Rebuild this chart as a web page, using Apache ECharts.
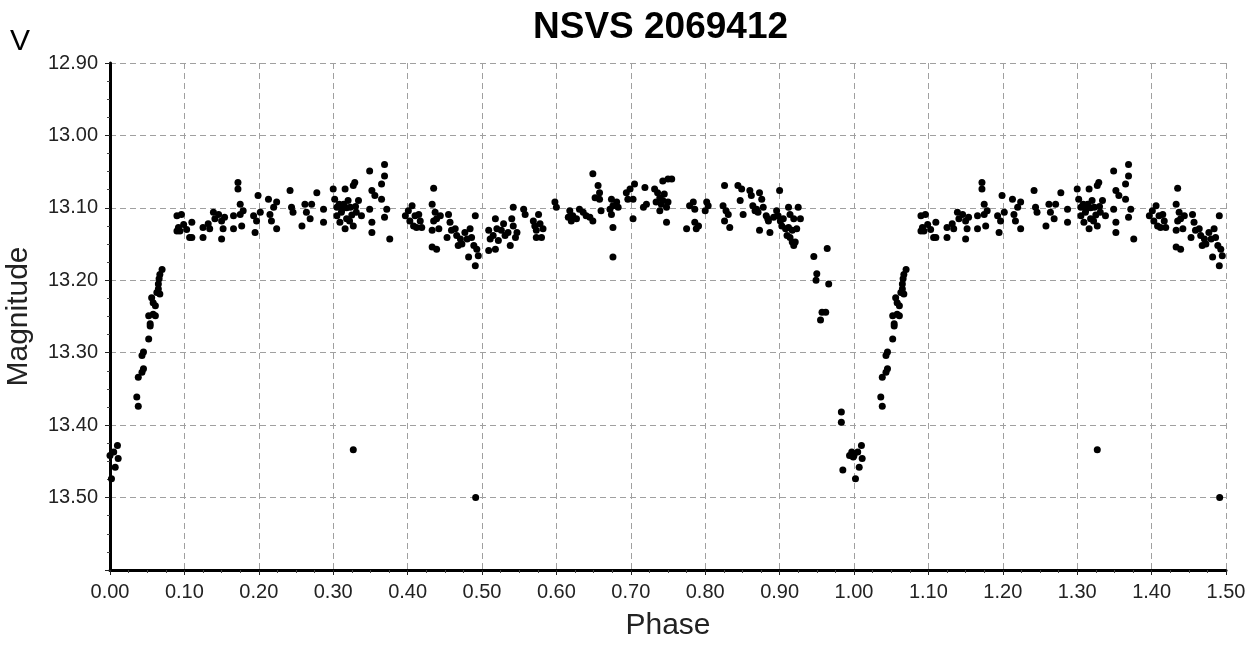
<!DOCTYPE html>
<html>
<head>
<meta charset="utf-8">
<title>NSVS 2069412</title>
<script src="https://cdn.jsdelivr.net/npm/echarts@6.0.0/dist/echarts.min.js"></script>
<style>
  html, body { margin: 0; padding: 0; background: #fff; }
  #chart { width: 1259px; height: 646px; }
</style>
</head>
<body>
<div id="chart"></div>
<script>
var phase = [
  0.000, 0.002, 0.005, 0.007, 0.010, 0.011,
  0.036, 0.038, 0.038, 0.043, 0.045, 0.043, 0.045, 0.052, 0.054, 0.054, 0.052, 0.058, 0.061, 0.058,
  0.061, 0.056, 0.063, 0.067, 0.065, 0.065, 0.066, 0.067, 0.070,
  0.090, 0.092, 0.096, 0.099, 0.094, 0.103, 0.107, 0.090,
  0.110, 0.110, 0.125, 0.125, 0.132, 0.139, 0.141, 0.134, 0.146, 0.150, 0.152, 0.154, 0.150, 0.166,
  0.166, 0.172, 0.172, 0.175, 0.175, 0.177, 0.179, 0.193, 0.195, 0.197, 0.199, 0.202, 0.213, 0.215,
  0.217, 0.224, 0.224, 0.220, 0.242, 0.244, 0.246, 0.258, 0.262, 0.264, 0.269, 0.271, 0.278, 0.287,
  0.287, 0.300, 0.302, 0.305, 0.305, 0.311, 0.314, 0.316, 0.318, 0.316, 0.323, 0.327, 0.329, 0.327,
  0.331, 0.334, 0.338, 0.349, 0.352, 0.349, 0.352, 0.352, 0.356,
  0.308, 0.312, 0.320, 0.325, 0.318, 0.330, 0.322, 0.309, 0.327,
  0.369, 0.369, 0.365, 0.365, 0.372, 0.369, 0.376, 0.397, 0.401, 0.406, 0.403, 0.410, 0.415, 0.412,
  0.408, 0.417, 0.419, 0.435, 0.433, 0.437, 0.435, 0.439, 0.442, 0.433, 0.444, 0.433, 0.439, 0.455,
  0.457, 0.459, 0.453, 0.464, 0.466, 0.471, 0.473, 0.468, 0.477, 0.480, 0.484, 0.486, 0.489, 0.491,
  0.493, 0.495, 0.482, 0.491, 0.4915,
  0.509, 0.511, 0.515, 0.518, 0.520, 0.522, 0.518, 0.509, 0.526, 0.529, 0.531, 0.535, 0.538, 0.540,
  0.542, 0.545, 0.547, 0.542, 0.556, 0.558, 0.569, 0.571, 0.576, 0.573, 0.578, 0.582, 0.580, 0.573,
  0.598, 0.600, 0.616,
  0.618, 0.622, 0.627, 0.631, 0.636, 0.640, 0.645, 0.649, 0.620, 0.649, 0.656, 0.658, 0.652, 0.658,
  0.660, 0.674, 0.676, 0.681, 0.683, 0.674, 0.672, 0.676, 0.676, 0.694, 0.699, 0.705, 0.703, 0.696,
  0.703, 0.719, 0.717, 0.721, 0.732, 0.736, 0.739, 0.741, 0.734, 0.743, 0.745, 0.748, 0.750, 0.739,
  0.743, 0.750, 0.755, 0.748, 0.775, 0.779, 0.784, 0.786, 0.786, 0.788, 0.791, 0.800, 0.802, 0.804,
  0.826, 0.824, 0.828, 0.826, 0.833, 0.831, 0.844, 0.849, 0.847, 0.851, 0.860, 0.862, 0.864, 0.869,
  0.873, 0.876, 0.878, 0.871, 0.867, 0.873, 0.882, 0.884,
  0.900, 0.885, 0.887, 0.896, 0.892, 0.898, 0.901, 0.905, 0.912, 0.914, 0.919, 0.925, 0.928, 0.903,
  0.908, 0.910, 0.914, 0.917, 0.919, 0.921, 0.923, 0.912, 0.917,
  0.964, 0.946, 0.950, 0.949, 0.966, 0.957, 0.955, 0.962,
  0.983, 0.983, 0.985, 0.994, 0.997, 0.999
];
var mag = [
  13.442, 13.474, 13.437, 13.458, 13.428, 13.446,
  13.361, 13.374, 13.334, 13.327, 13.322, 13.304, 13.299, 13.281, 13.260, 13.263, 13.249, 13.247, 13.249, 13.231,
  13.235, 13.224, 13.217, 13.219, 13.212, 13.205, 13.198, 13.192, 13.185,
  13.111, 13.127, 13.109, 13.123, 13.132, 13.130, 13.141, 13.132,
  13.120, 13.141, 13.127, 13.141, 13.122, 13.106, 13.115, 13.129, 13.109, 13.118, 13.129, 13.113, 13.143, 13.111,
  13.129, 13.065, 13.074, 13.095, 13.109, 13.125, 13.104, 13.111, 13.134, 13.118, 13.083, 13.106, 13.088, 13.109,
  13.118, 13.092, 13.129, 13.099, 13.076, 13.099, 13.106, 13.125, 13.095, 13.106, 13.115, 13.095, 13.079, 13.102,
  13.120, 13.074, 13.088, 13.099, 13.111, 13.106, 13.095, 13.074, 13.115, 13.129, 13.099, 13.069, 13.065, 13.125,
  13.106, 13.090, 13.111, 13.049, 13.076, 13.102, 13.120, 13.134, 13.083,
  13.095, 13.102, 13.090, 13.110, 13.100, 13.098, 13.118, 13.120, 13.434,
  13.040, 13.056, 13.067, 13.088, 13.102, 13.113, 13.143, 13.111, 13.104, 13.097, 13.118, 13.111, 13.109, 13.127,
  13.125, 13.118, 13.127, 13.073, 13.095, 13.106, 13.118, 13.115, 13.129, 13.131, 13.111, 13.154, 13.157, 13.109,
  13.120, 13.131, 13.141, 13.129, 13.138, 13.143, 13.150, 13.152, 13.134, 13.143, 13.129, 13.141, 13.152, 13.111,
  13.157, 13.166, 13.168, 13.180, 13.500,
  13.131, 13.143, 13.138, 13.115, 13.129, 13.145, 13.157, 13.159, 13.131, 13.122, 13.138, 13.134, 13.152, 13.115,
  13.125, 13.141, 13.134, 13.099, 13.102, 13.109, 13.118, 13.125, 13.109, 13.131, 13.122, 13.129, 13.141, 13.141,
  13.092, 13.099, 13.113,
  13.104, 13.111, 13.115, 13.102, 13.106, 13.111, 13.113, 13.118, 13.118, 13.053, 13.069, 13.079, 13.086, 13.088,
  13.104, 13.088, 13.097, 13.092, 13.099, 13.109, 13.102, 13.127, 13.168, 13.079, 13.074, 13.067, 13.088, 13.088,
  13.115, 13.072, 13.099, 13.095, 13.074, 13.079, 13.086, 13.095, 13.092, 13.090, 13.081, 13.099, 13.092, 13.104,
  13.063, 13.060, 13.060, 13.120, 13.129, 13.097, 13.092, 13.102, 13.120, 13.129, 13.125, 13.104, 13.092, 13.097,
  13.069, 13.097, 13.104, 13.118, 13.127, 13.109, 13.069, 13.074, 13.090, 13.109, 13.076, 13.083, 13.097, 13.102,
  13.079, 13.088, 13.099, 13.106, 13.104, 13.131, 13.111, 13.115,
  13.076, 13.118, 13.134, 13.104, 13.113, 13.111, 13.118, 13.115, 13.099, 13.109, 13.115, 13.099, 13.115, 13.125,
  13.129, 13.138, 13.141, 13.147, 13.152, 13.147, 13.129, 13.127, 13.131,
  13.156, 13.167, 13.191, 13.200, 13.205, 13.244, 13.255, 13.244,
  13.382, 13.396, 13.462, 13.442, 13.437, 13.444
];

// the light curve is plotted over 1.5 cycles: points of phase <= 0.5 are shown again at phase + 1
var points = [];
for (var i = 0; i < phase.length; i++) {
  points.push([phase[i], mag[i]]);
  if (phase[i] <= 0.5) points.push([phase[i] + 1, mag[i]]);
}

var myChart = echarts.init(document.getElementById('chart'));
myChart.setOption({
  animation: false,
  textStyle: { fontFamily: 'Liberation Sans, Arial, sans-serif' },
  title: [
    {
      text: 'NSVS 2069412',
      left: 533,
      top: 9,
      padding: 0,
      textStyle: { fontSize: 37, fontWeight: 'bold', color: '#000' }
    },
    {
      text: 'V',
      left: 10,
      top: 27,
      padding: 0,
      textStyle: { fontSize: 30, fontWeight: 'normal', color: '#000' }
    }
  ],
  grid: { left: 110, right: 33, top: 63, bottom: 76, outerBoundsMode: 'none' },
  xAxis: {
    type: 'value',
    min: 0,
    max: 1.5,
    interval: 0.1,
    name: 'Phase',
    nameLocation: 'middle',
    nameGap: 41,
    nameTextStyle: { fontSize: 30, color: '#222' },
    axisLine: { lineStyle: { color: '#000', width: 3 } },
    axisTick: { length: 5, lineStyle: { color: '#222' } },
    minorTick: { show: true, splitNumber: 4, length: 3, lineStyle: { color: '#444' } },
    axisLabel: {
      fontSize: 20,
      color: '#222',
      margin: 12,
      formatter: function (v) { return v.toFixed(2); }
    },
    splitLine: { show: true, lineStyle: { color: '#a0a0a0', type: [6, 4], width: 1 } }
  },
  yAxis: {
    type: 'value',
    inverse: true,
    min: 12.9,
    max: 13.6,
    interval: 0.1,
    name: 'Magnitude',
    nameLocation: 'middle',
    nameRotate: 90,
    nameGap: 76,
    nameTextStyle: { fontSize: 30, color: '#222' },
    axisLine: { show: true, lineStyle: { color: '#000', width: 3 } },
    axisTick: { show: true, length: 5, lineStyle: { color: '#222' } },
    minorTick: { show: true, splitNumber: 4, length: 3, lineStyle: { color: '#444' } },
    axisLabel: {
      fontSize: 20,
      color: '#222',
      margin: 12,
      formatter: function (v) { return Math.abs(v - 13.6) < 1e-6 ? '' : v.toFixed(2); }
    },
    splitLine: { show: true, lineStyle: { color: '#a0a0a0', type: [6, 4], width: 1 } }
  },
  series: [
    {
      type: 'scatter',
      symbol: 'circle',
      symbolSize: 7,
      itemStyle: { color: '#000', opacity: 1 },
      data: points
    }
  ]
});
</script>
</body>
</html>
